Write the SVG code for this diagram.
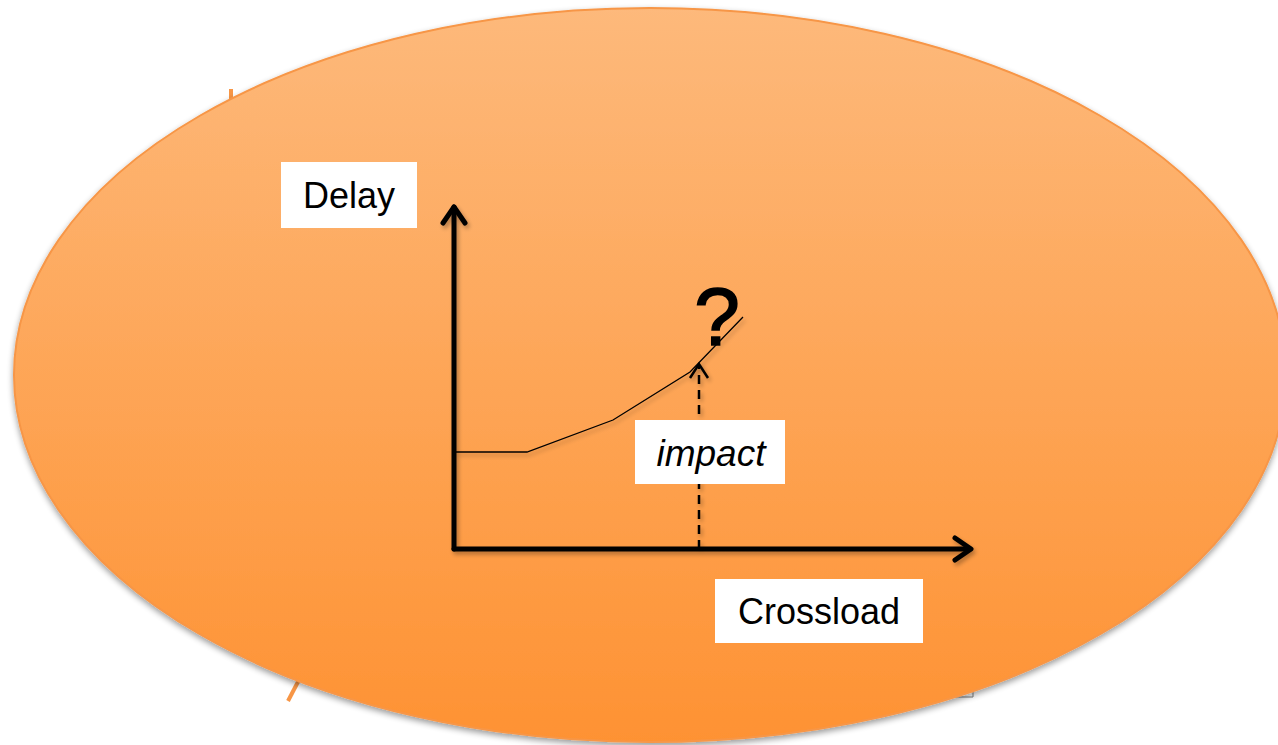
<svg xmlns="http://www.w3.org/2000/svg" width="1278" height="745" viewBox="0 0 1278 745">
  <defs>
    <linearGradient id="fill" x1="0" y1="0" x2="0" y2="1">
      <stop offset="0" stop-color="#FDB97B"/>
      <stop offset="1" stop-color="#FE9233"/>
    </linearGradient>
    <filter id="shadow" x="-10%" y="-10%" width="120%" height="120%">
      <feGaussianBlur in="SourceAlpha" stdDeviation="3"/>
      <feOffset dx="0" dy="3" result="b"/>
      <feComponentTransfer><feFuncA type="linear" slope="0.4"/></feComponentTransfer>
      <feMerge><feMergeNode/><feMergeNode in="SourceGraphic"/></feMerge>
    </filter>
    <filter id="lineShadow" x="-20%" y="-20%" width="140%" height="140%">
      <feGaussianBlur in="SourceAlpha" stdDeviation="2"/>
      <feOffset dx="2" dy="3"/>
      <feComponentTransfer><feFuncA type="linear" slope="0.3"/></feComponentTransfer>
      <feMerge><feMergeNode/><feMergeNode in="SourceGraphic"/></feMerge>
    </filter>
  </defs>
  <style>
    .label { fill: #FFFFFF; }
    .txt { font-family: "Liberation Sans", Arial, sans-serif; font-size: 36px; fill: #000000; }
    .impact { font-size: 37px; font-style: italic; }
    .big { font-size: 82px; stroke: #000000; stroke-width: 1.6; }
    .axis { stroke: #000000; stroke-width: 5; fill: none; stroke-linecap: round; stroke-linejoin: round; }
  </style>

  <!-- stray marks behind the ellipse -->
  <line x1="231" y1="89" x2="231" y2="104" stroke="#F79646" stroke-width="4"/>
  <line x1="300" y1="678" x2="288" y2="701" stroke="#F79646" stroke-width="4"/>
  <polyline points="955,697 973,697 973,688" fill="none" stroke="#7F7F7F" stroke-width="1"/>

  <!-- background ellipse -->
  <g id="ellipse">
    <ellipse cx="650" cy="375" rx="636" ry="367" fill="url(#fill)" stroke="#F79646" stroke-width="2" filter="url(#shadow)"/>
  </g>

  <!-- connectors: axes, curve and impact arrow -->
  <g id="connectors" filter="url(#lineShadow)">
    <line class="axis" x1="454" y1="549" x2="454" y2="207"/>
    <polyline class="axis" points="443,223 454,207 465,223"/>
    <line class="axis" x1="454" y1="549" x2="970" y2="549"/>
    <polyline class="axis" points="955,538 971,549 955,560"/>
    <polyline points="454,452 527,452 613,420 690,372 743,317" fill="none" stroke="#000000" stroke-width="1.3"/>
    <line x1="699" y1="549" x2="699" y2="366" stroke="#000000" stroke-width="2.5" stroke-dasharray="9,6"/>
    <polyline points="690,378 699,364 708,378" fill="none" stroke="#000000" stroke-width="2.5"/>
  </g>

  <g id="delay">
    <rect class="label" x="281" y="162" width="136" height="66"/>
    <text class="txt" x="349" y="208" text-anchor="middle">Delay</text>
  </g>

  <g id="crossload">
    <rect class="label" x="715" y="579" width="208" height="64"/>
    <text class="txt" x="819" y="624" text-anchor="middle">Crossload</text>
  </g>

  <g id="impact">
    <rect class="label" x="635" y="420" width="150" height="64"/>
    <text class="txt impact" x="711" y="466" text-anchor="middle">impact</text>
  </g>

  <g id="question">
    <text class="txt big" x="717" y="345" text-anchor="middle">?</text>
  </g>
</svg>
